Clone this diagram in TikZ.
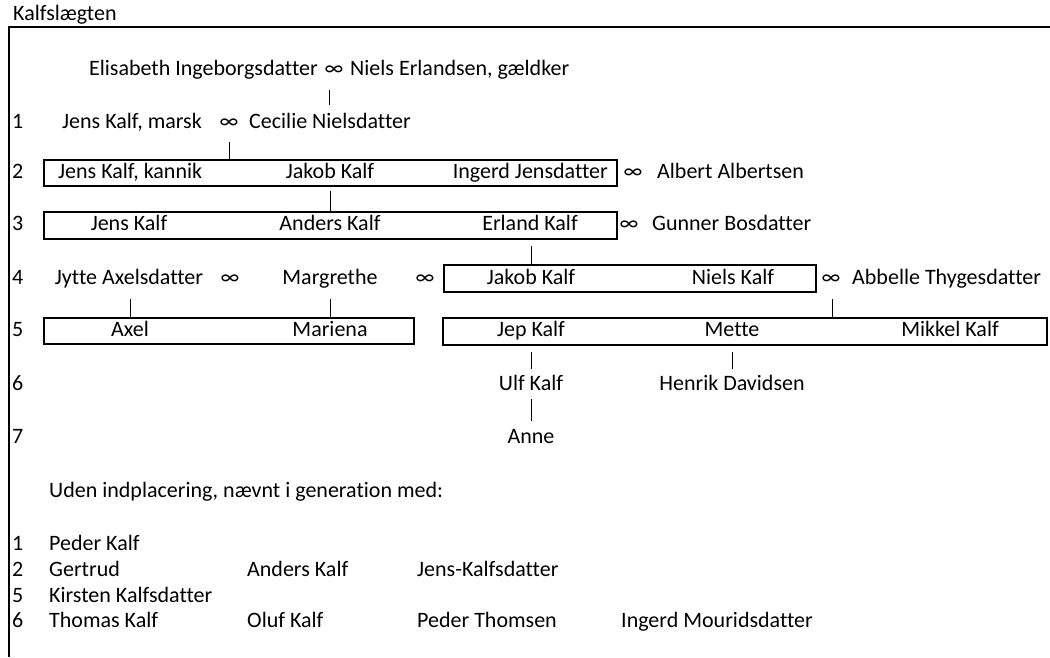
\documentclass[tikz,border=0pt]{standalone}
\usepackage{fontspec}
\setmainfont{Carlito}[Ligatures=NoCommon]
\begin{document}
\begin{tikzpicture}[x=1pt,y=-1pt,
  txt/.style={inner sep=0pt, yshift=-3.5pt, font=\fontsize{22}{26}\selectfont},
  lt/.style={txt, anchor=mid west},
  ct/.style={txt, anchor=mid},
  rt/.style={txt, anchor=mid east},
  fambox/.style={draw, line width=1.6pt, inner sep=0pt, anchor=center},
  link/.style={line width=1pt},
  frame/.style={line width=2pt}]
\useasboundingbox (0,0) rectangle (1050,657);
% frame
\coordinate (ftr) at (1050,27);
\coordinate (ftl) at (9,27);
\coordinate (fbl) at (9,657);
\draw[frame] (ftr) -- (ftl) -- (fbl);
\node[lt] (title) at (13,15) {Kalfslægten};
% generation numbers
\node[lt] (g1) at (12,123) {1};
\node[lt] (g2) at (12,173) {2};
\node[lt] (g3) at (12,225) {3};
\node[lt] (g4) at (12,279) {4};
\node[lt] (g5) at (12,331) {5};
\node[lt] (g6) at (12,385) {6};
\node[lt] (g7) at (12,438) {7};
% top couple
\node[rt] (elis) at (318,70) {Elisabeth Ingeborgsdatter};
\node[ct] (m0) at (334,70) {∞};
\node[lt] (niels) at (350,70) {Niels Erlandsen, gældker};
\coordinate (l0a) at (329,90); \coordinate (l0b) at (329,105);
\draw[link] (l0a) -- (l0b);
% generation 1
\node[lt] (jensm) at (62,123) {Jens Kalf, marsk};
\node[ct] (m1) at (229,123) {∞};
\node[lt] (cecilie) at (249,123) {Cecilie Nielsdatter};
\coordinate (l1a) at (229,142); \coordinate (l1b) at (229,160);
\draw[link] (l1a) -- (l1b);
% generation 2
\node[fambox, minimum width=573pt, minimum height=26pt] (b2) at (330.5,173) {};
\node[lt] (jensk) at (58,173) {Jens Kalf, kannik};
\node[ct] (jakob1) at (330,173) {Jakob Kalf};
\node[rt] (ingerd) at (608,173) {Ingerd Jensdatter};
\node[ct] (m2) at (633,173) {∞};
\node[lt] (albert) at (657,173) {Albert Albertsen};
\coordinate (l2a) at (330,191); \coordinate (l2b) at (330,211);
\draw[link] (l2a) -- (l2b);
% generation 3
\node[fambox, minimum width=573pt, minimum height=27pt] (b3) at (330.5,225.5) {};
\node[ct] (jens3) at (129,225) {Jens Kalf};
\node[ct] (anders3) at (330,225) {Anders Kalf};
\node[ct] (erland) at (530,225) {Erland Kalf};
\node[ct] (m3) at (629,225) {∞};
\node[lt] (gunner) at (652,225) {Gunner Bosdatter};
\coordinate (l3a) at (531,246); \coordinate (l3b) at (531,265);
\draw[link] (l3a) -- (l3b);
% generation 4
\node[ct] (jytte) at (129,279) {Jytte Axelsdatter};
\node[ct] (m4a) at (230,279) {∞};
\node[ct] (margrethe) at (330,279) {Margrethe};
\node[ct] (m4b) at (425,279) {∞};
\node[fambox, minimum width=372pt, minimum height=27pt] (b4) at (630,278.5) {};
\node[ct] (jakob4) at (531,279) {Jakob Kalf};
\node[ct] (niels4) at (733,279) {Niels Kalf};
\node[ct] (m4c) at (831,279) {∞};
\node[lt] (abbelle) at (852,279) {Abbelle Thygesdatter};
\coordinate (l4aa) at (130,299); \coordinate (l4ab) at (130,318);
\coordinate (l4ba) at (330,299); \coordinate (l4bb) at (330,318);
\coordinate (l4ca) at (832,299); \coordinate (l4cb) at (832,318);
\draw[link] (l4aa) -- (l4ab);
\draw[link] (l4ba) -- (l4bb);
\draw[link] (l4ca) -- (l4cb);
% generation 5
\node[fambox, minimum width=370pt, minimum height=26pt] (b5l) at (229,331) {};
\node[ct] (axel) at (130,331) {Axel};
\node[ct] (mariena) at (330,331) {Mariena};
\node[fambox, minimum width=604pt, minimum height=27pt] (b5r) at (745,331.5) {};
\node[ct] (jep) at (531,331) {Jep Kalf};
\node[ct] (mette) at (732,331) {Mette};
\node[ct] (mikkel) at (950,331) {Mikkel Kalf};
\coordinate (l5aa) at (531,352); \coordinate (l5ab) at (531,369);
\coordinate (l5ba) at (732,352); \coordinate (l5bb) at (732,369);
\draw[link] (l5aa) -- (l5ab);
\draw[link] (l5ba) -- (l5bb);
% generation 6
\node[ct] (ulf) at (531,385) {Ulf Kalf};
\node[ct] (henrik) at (732,385) {Henrik Davidsen};
\coordinate (l6a) at (531,399); \coordinate (l6b) at (531,421);
\draw[link] (l6a) -- (l6b);
% generation 7
\node[ct] (anne) at (531,438) {Anne};
% unplaced
\node[lt] (uden) at (49,492) {Uden indplacering, nævnt i generation med:};
\node[lt] (u1) at (12,545) {1};
\node[lt] (u2) at (12,571) {2};
\node[lt] (u5) at (12,597) {5};
\node[lt] (u6) at (12,622) {6};
\node[lt] (peder) at (49,545) {Peder Kalf};
\node[lt] (gertrud) at (49,571) {Gertrud};
\node[lt] (andersu) at (247,571) {Anders Kalf};
\node[lt] (jensk2) at (417,571) {Jens-Kalfsdatter};
\node[lt] (kirsten) at (49,597) {Kirsten Kalfsdatter};
\node[lt] (thomas) at (49,622) {Thomas Kalf};
\node[lt] (oluf) at (247,622) {Oluf Kalf};
\node[lt] (pedert) at (417,622) {Peder Thomsen};
\node[lt] (ingerdm) at (621,622) {Ingerd Mouridsdatter};
\end{tikzpicture}
\end{document}
